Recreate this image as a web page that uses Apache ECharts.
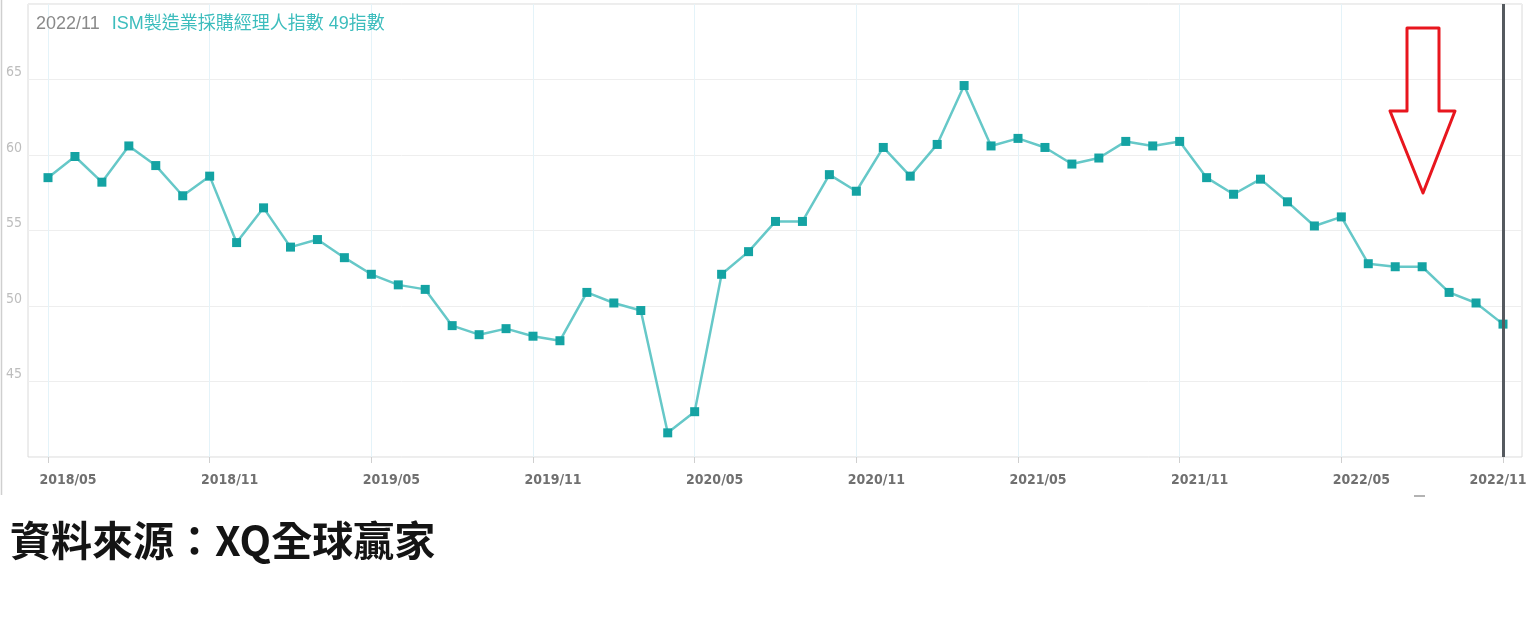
<!DOCTYPE html>
<html>
<head>
<meta charset="utf-8">
<script src="https://cdn.jsdelivr.net/npm/echarts@6/dist/echarts.min.js"></script>
<style>
html,body{margin:0;padding:0;background:#fff;}
#chart{width:1536px;height:626px;}
</style>
</head>
<body>
<div id="chart"></div>
<script>
// ---- data ----
const categories = [
  '2018/05','2018/06','2018/07','2018/08','2018/09','2018/10','2018/11','2018/12',
  '2019/01','2019/02','2019/03','2019/04','2019/05','2019/06','2019/07','2019/08','2019/09','2019/10','2019/11','2019/12',
  '2020/01','2020/02','2020/03','2020/04','2020/05','2020/06','2020/07','2020/08','2020/09','2020/10','2020/11','2020/12',
  '2021/01','2021/02','2021/03','2021/04','2021/05','2021/06','2021/07','2021/08','2021/09','2021/10','2021/11','2021/12',
  '2022/01','2022/02','2022/03','2022/04','2022/05','2022/06','2022/07','2022/08','2022/09','2022/10','2022/11'
];
const pmiValues = [
  58.5, 59.9, 58.2, 60.6, 59.3, 57.3, 58.6, 54.2,
  56.5, 53.9, 54.4, 53.2, 52.1, 51.4, 51.1, 48.7, 48.1, 48.5, 48.0, 47.7,
  50.9, 50.2, 49.7, 41.6, 43.0, 52.1, 53.6, 55.6, 55.6, 58.7, 57.6, 60.5,
  58.6, 60.7, 64.6, 60.6, 61.1, 60.5, 59.4, 59.8, 60.9, 60.6, 60.9, 58.5,
  57.4, 58.4, 56.9, 55.3, 55.9, 52.8, 52.6, 52.6, 50.9, 50.2, 48.8
];
const yTicks = [45, 50, 55, 60, 65];
const seriesName = 'ISM製造業採購經理人指數';
const sourceText = '資料來源：XQ全球贏家';

const lastCat = categories[categories.length - 1];
const lastVal = Math.round(pmiValues[pmiValues.length - 1]);

const condensed = "'DejaVu Sans Condensed','Liberation Sans Narrow','Roboto Condensed',Roboto,sans-serif";

const chart = echarts.init(document.getElementById('chart'), null, {renderer: 'canvas'});
chart.setOption({
  animation: false,
  backgroundColor: '#ffffff',
  title: [
    {
      left: 31, top: 10,
      text: '{a|' + lastCat + '}{b|' + seriesName + ' ' + lastVal + '指數}',
      textStyle: {
        fontWeight: 'normal',
        rich: {
          a: {color: '#8a8a8a', fontSize: 18, fontWeight: 'normal', fontFamily: "'Liberation Sans',Arial,sans-serif", padding: [0, 12, 0, 0]},
          b: {color: '#3dbdbd', fontSize: 18, fontWeight: 'normal', fontFamily: "'Liberation Sans','Noto Sans CJK TC',sans-serif"}
        }
      }
    },
    {
      left: 5, top: 515,
      text: sourceText,
      textStyle: {color: '#141414', fontSize: 41, fontWeight: 'bold', fontFamily: "'Noto Sans CJK TC','Noto Sans CJK SC',sans-serif"}
    }
  ],
  grid: [
    {left: 48, right: 33, top: 4, bottom: 169, containLabel: false},
    {left: 28, right: 14, top: 4, bottom: 169, show: true, borderColor: '#dadada', borderWidth: 1, backgroundColor: 'transparent'}
  ],
  xAxis: [
    {
      type: 'category', gridIndex: 0, data: categories, boundaryGap: false,
      axisLine: {show: false},
      axisTick: {show: true, interval: 5, length: 6, lineStyle: {color: '#cfcfcf'}},
      axisLabel: {
        interval: 5, margin: 16,
        formatter: function (v) { return v === lastCat ? '{b|' + v + '}' : '{a|' + v + '}'; },
        rich: {
          a: {color: '#707070', fontSize: 14, fontWeight: 'bold', fontFamily: condensed, padding: [0, 0, 0, 40]},
          b: {color: '#707070', fontSize: 14, fontWeight: 'bold', fontFamily: condensed, padding: [0, 10, 0, 0]}
        }
      },
      splitLine: {show: true, interval: 5, lineStyle: {color: '#e4f3f9', width: 1}}
    },
    {type: 'value', gridIndex: 1, show: false, min: 0, max: 1}
  ],
  yAxis: [
    {type: 'value', gridIndex: 0, min: 40, max: 70, interval: 5, show: false, splitLine: {show: false}},
    {
      type: 'value', gridIndex: 1, min: 40, max: 70, interval: 5,
      axisLine: {show: false}, axisTick: {show: false},
      axisLabel: {
        margin: 6, color: '#bdbdbd', fontSize: 14, fontFamily: condensed, verticalAlign: 'bottom',
        formatter: function (v) { return yTicks.indexOf(v) >= 0 ? String(v) : ''; }
      },
      splitLine: {show: true, lineStyle: {color: '#eeeeee', width: 1}}
    }
  ],
  series: [{
    name: seriesName,
    type: 'line',
    xAxisIndex: 0, yAxisIndex: 0,
    data: pmiValues,
    symbol: 'rect', symbolSize: 9,
    itemStyle: {color: '#14a3a3'},
    lineStyle: {color: '#66c8c8', width: 2.5},
    markLine: {
      silent: true, symbol: ['none', 'none'],
      label: {show: false},
      lineStyle: {color: '#555a5f', width: 3, type: 'solid'},
      data: [{xAxis: lastCat}]
    },
    z: 3
  }],
  graphic: [
    {
      type: 'line', silent: true,
      shape: {x1: 1.5, y1: 0, x2: 1.5, y2: 495},
      style: {stroke: '#cfcfcf', lineWidth: 1.5}
    },
    {
      type: 'polygon', silent: true, z: 10,
      shape: {points: [[1407, 28], [1439, 28], [1439, 111], [1455, 111], [1423, 193], [1390, 111], [1407, 111]]},
      style: {fill: 'none', stroke: '#e8161e', lineWidth: 3, lineJoin: 'round'}
    },
    {
      type: 'line', silent: true,
      shape: {x1: 1414, y1: 496, x2: 1425, y2: 496},
      style: {stroke: '#9a9a9a', lineWidth: 1.5}
    }
  ]
});
</script>
</body>
</html>
